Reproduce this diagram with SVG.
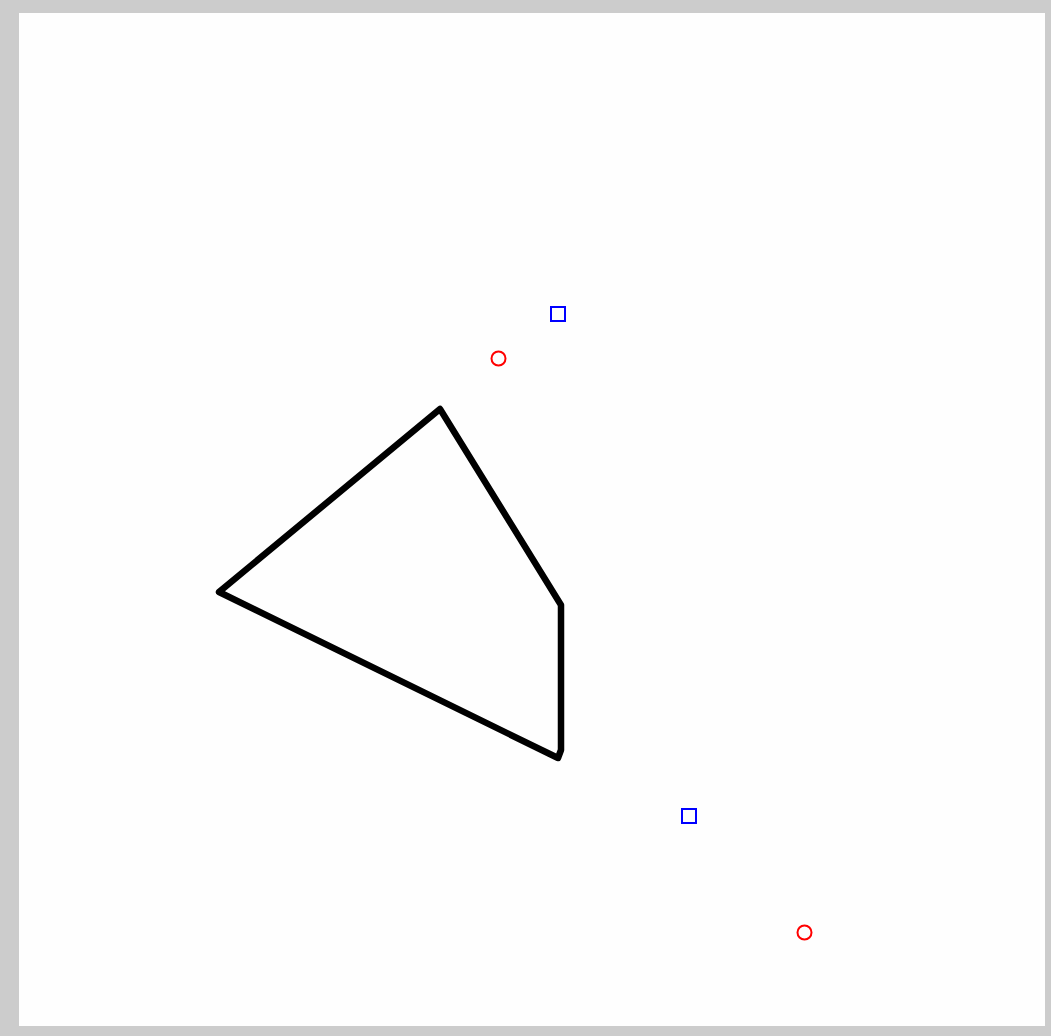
<svg xmlns="http://www.w3.org/2000/svg" width="1051" height="1036" viewBox="0 0 1051 1036">
<style>
.sq{fill:none;stroke:#0000ff;stroke-width:2}
.ci{fill:none;stroke:#ff0000;stroke-width:2}
.poly{fill:none;stroke:#000;stroke-width:6.5;stroke-linejoin:round;stroke-linecap:round}
</style>
<rect x="0" y="0" width="1051" height="1036" fill="#cccccc"/>
<rect x="19" y="13" width="1026" height="1013" fill="#fefefe"/>
<g id="shape">
<polygon class="poly" points="219,592 440,409 561,605 561,750 558,758"/>
</g>
<g id="markers">
<rect class="sq" x="551" y="307" width="14" height="14"/>
<circle class="ci" cx="498.5" cy="358.5" r="7"/>
<rect class="sq" x="682" y="809" width="14" height="14"/>
<circle class="ci" cx="804.5" cy="932.5" r="7"/>
</g>
</svg>
